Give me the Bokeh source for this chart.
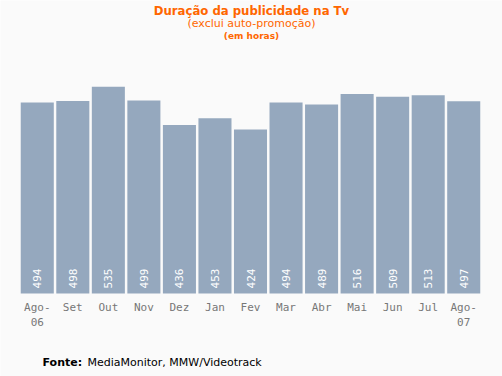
from bokeh.plotting import figure
from bokeh.models import ColumnDataSource, FixedTicker, Label, Range1d
from bokeh.core.properties import value
from bokeh.embed import file_html
from bokeh.resources import INLINE
import math

months = ["Ago-\n06", "Set", "Out", "Nov", "Dez", "Jan", "Fev", "Mar", "Abr", "Mai", "Jun", "Jul", "Ago-\n07"]
hours = [494, 498, 535, 499, 436, 453, 424, 494, 489, 516, 509, 513, 497]

W, H = 502, 376
BASE_PX = 293          # canvas y of bar baseline
UPP_Y = 600 / 232      # data units per pixel (vertical)
PX_X = 462 / 13        # pixels per category (horizontal)
LEFT_PX = 19           # canvas x where first category starts

xs = [i + 0.5 for i in range(len(months))]
src = ColumnDataSource(dict(x=xs, top=hours, lab=[str(v) for v in hours]))

BG = "#fafafa"
p = figure(width=W, height=H, output_backend="svg", toolbar_location=None,
           x_range=Range1d(-LEFT_PX / PX_X, (W - LEFT_PX) / PX_X),
           y_range=Range1d(-(H - BASE_PX) * UPP_Y, BASE_PX * UPP_Y),
           min_border=0, min_border_left=0, min_border_right=0, min_border_top=0, min_border_bottom=0,
           background_fill_color=BG, border_fill_color=BG, outline_line_color=None)

p.vbar(x="x", top="top", bottom=0, width=0.93, source=src, fill_color="#95a8be", line_color=None)
p.text(x="x", y=13, text="lab", source=src, angle=math.pi / 2, text_align="left", text_baseline="middle",
       text_color="white", text_font=value("DejaVu Sans Mono"), text_font_size="11px")

p.xgrid.visible = False
p.ygrid.visible = False
p.yaxis.visible = False
ax = p.xaxis[0]
ax.fixed_location = 0
ax.ticker = FixedTicker(ticks=xs)
ax.major_label_overrides = {x: m for x, m in zip(xs, months)}
ax.axis_line_color = None
ax.major_tick_line_color = None
ax.minor_tick_line_color = None
ax.major_label_text_color = "#777777"
ax.major_label_text_font = "DejaVu Sans Mono"
ax.major_label_text_font_size = "11px"
ax.major_label_standoff = 1

ORANGE = "#ff6600"
def lab(x, y, text, size, bold=False, color=ORANGE, align="center"):
    p.add_layout(Label(x=(x - LEFT_PX) / PX_X, y=(BASE_PX - y) * UPP_Y, text=text, text_align=align,
                       text_baseline="middle", text_color=color, text_font="DejaVu Sans",
                       text_font_style="bold" if bold else "normal", text_font_size=size))

lab(251, 10, "Duração da publicidade na Tv", "11.7px", bold=True)
lab(251, 23, "(exclui auto-promoção)", "11px")
lab(251, 35, "(em horas)", "9px", bold=True)
lab(42, 362, "Fonte:", "11px", bold=True, color="black", align="left")
lab(87, 362, "MediaMonitor, MMW/Videotrack", "11px", color="black", align="left")

open("out.html", "w").write(file_html(p, INLINE))
